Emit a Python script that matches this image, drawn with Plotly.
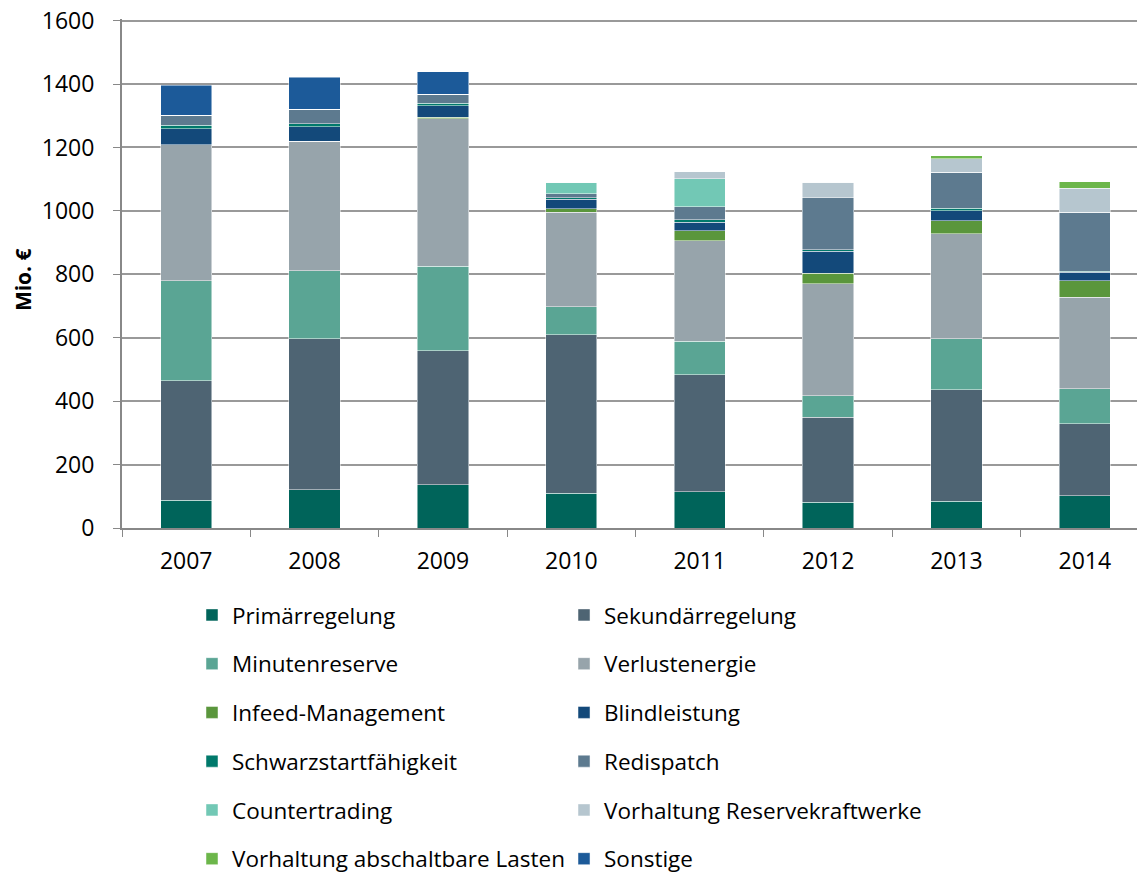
import plotly.graph_objects as go

years = ['2007', '2008', '2009', '2010', '2011', '2012', '2013', '2014']

primaerregelung = [88, 120, 136, 110, 114, 82, 85, 101]
sekundaerregelung = [376, 476, 423, 500, 370, 268, 351, 227]
minutenreserve = [316, 215, 266, 87, 105, 67, 161, 111]
verlustenergie = [429, 408, 465, 299, 317, 353, 331, 288]
infeed_management = [0, 0, 5, 10, 31, 34, 41, 53]
blindleistung = [50, 46, 36, 30, 27, 68, 31, 26]
schwarzstart = [11, 9, 9, 5, 8, 6, 8, 4]
redispatch = [31, 47, 27, 13, 41, 164, 114, 186]
countertrading = [0, 0, 0, 36, 88, 0, 0, 0]
reservekraftwerke = [0, 0, 0, 0, 22, 48, 43, 76]
abschaltbare_lasten = [0, 0, 0, 0, 0, 0, 9, 20]
sonstige = [95, 100, 71, 0, 0, 0, 0, 0]

series = [
    ('Primärregelung', primaerregelung, '#00645A', 'legend'),
    ('Sekundärregelung', sekundaerregelung, '#4E6473', 'legend2'),
    ('Minutenreserve', minutenreserve, '#5AA594', 'legend'),
    ('Verlustenergie', verlustenergie, '#97A4AB', 'legend2'),
    ('Infeed-Management', infeed_management, '#5A963C', 'legend'),
    ('Blindleistung', blindleistung, '#13497A', 'legend2'),
    ('Schwarzstartfähigkeit', schwarzstart, '#00796B', 'legend'),
    ('Redispatch', redispatch, '#5D7A8F', 'legend2'),
    ('Countertrading', countertrading, '#72C8B5', 'legend'),
    ('Vorhaltung Reservekraftwerke', reservekraftwerke, '#B6C6CF', 'legend2'),
    ('Vorhaltung abschaltbare Lasten', abschaltbare_lasten, '#6CB64A', 'legend'),
    ('Sonstige', sonstige, '#1C5A99', 'legend2'),
]

fig = go.Figure()
for name, vals, col, leg in series:
    fig.add_trace(go.Bar(
        x=years, y=vals, name=name, legend=leg, legendgroup=name,
        marker=dict(color=col, line=dict(color='rgba(255,255,255,0.6)', width=0.8)),
    ))

tick_font = dict(family='Open Sans, Arial, sans-serif', size=23, color='#000000')
leg_font = dict(family='Open Sans, Arial, sans-serif', size=22.5, color='#000000')
legend_style = dict(
    orientation='v', traceorder='grouped', tracegroupgap=16.5,
    xref='container', yref='container',
    yanchor='top', xanchor='left', y=0.329, font=leg_font,
    bgcolor='rgba(0,0,0,0)', itemclick=False,
)

# the page body adds an 8px offset, margins are shifted for that;
# range goes a bit past 1600 so the top gridline is drawn
fig.update_layout(
    width=1145, height=873,
    margin=dict(l=114, r=4, t=11.4, b=353, autoexpand=False),
    barmode='stack', bargap=0.6,
    plot_bgcolor='white', paper_bgcolor='white',
    font=tick_font,
    legend=dict(x=0.1607, **legend_style),
    legend2=dict(x=0.4856, **legend_style),
    xaxis=dict(
        showline=True, linecolor='#888888', linewidth=2,
        ticks='outside', tickson='boundaries', ticklen=7, tickcolor='#888888', tickwidth=1,
        ticklabelstandoff=11,
        showgrid=False, tickfont=tick_font,
    ),
    yaxis=dict(
        range=[0, 1605], tick0=0, dtick=200,
        showline=True, linecolor='#888888', linewidth=2,
        ticks='outside', ticklen=7, tickcolor='#888888', tickwidth=1,
        ticklabelstandoff=14, ticklabeloverflow='allow',
        showgrid=True, gridcolor='#999999', gridwidth=2,
        tickfont=tick_font,
    ),
    annotations=[dict(
        text='<b>Mio. €</b>', textangle=-90, showarrow=False,
        xref='paper', yref='paper', x=-0.0964, y=0.489,
        xanchor='center', yanchor='middle',
        font=dict(family='Open Sans, Arial, sans-serif', size=21, color='#000000'),
    )],
)

fig.write_html('out.html')
